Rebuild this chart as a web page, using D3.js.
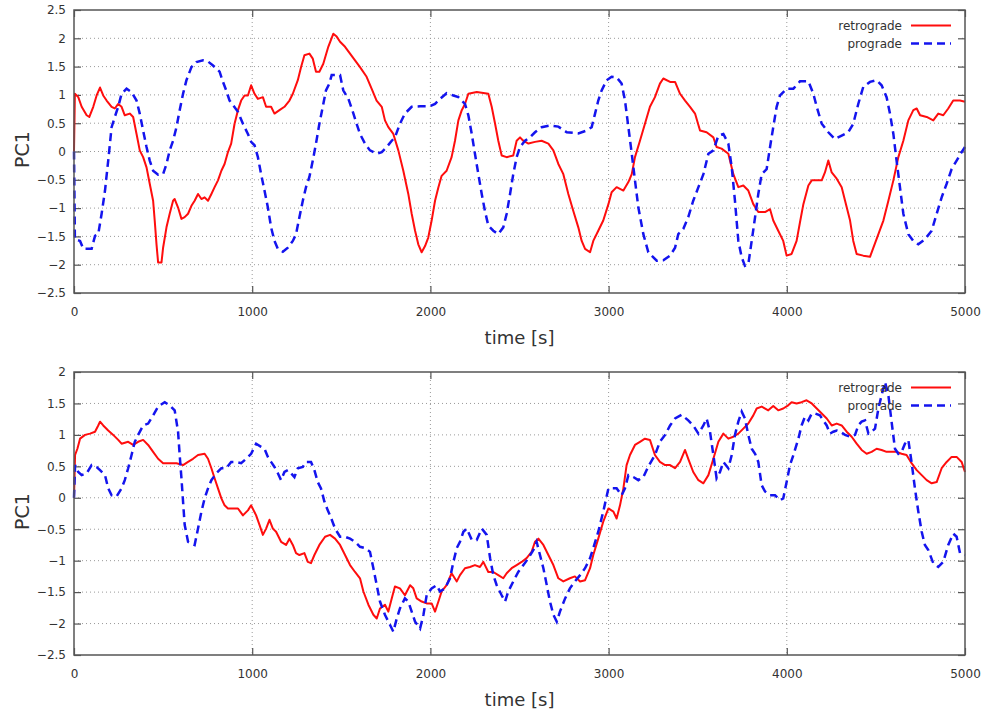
<!DOCTYPE html>
<html>
<head>
<meta charset="utf-8">
<script src="https://cdn.jsdelivr.net/npm/d3@7/dist/d3.min.js"></script>
<style>
  body { margin: 0; background: #fff; }
  text { font-family: "DejaVu Sans", sans-serif; fill: #333; }
</style>
</head>
<body>
<div id="chart"></div>
<script>
// tick values and labels
const x_ticks = [0, 1000, 2000, 3000, 4000, 5000];
const top_y_ticks = [-2.5, -2, -1.5, -1, -0.5, 0, 0.5, 1, 1.5, 2, 2.5];
const bottom_y_ticks = [-2.5, -2, -1.5, -1, -0.5, 0, 0.5, 1, 1.5, 2];
const series_labels = ['retrograde', 'prograde'];
const x_label = 'time [s]';
const y_label = 'PC1';

// [time (s), PC1]
const top_retrograde = [[0,0],[5,1.02],[24,0.96],[43,0.79],[71,0.64],[86,0.61],[108,0.79],[127,0.99],[146,1.13],[164,0.99],[183,0.9],[211,0.79],[229,0.76],[248,0.84],[267,0.79],[285,0.64],[313,0.67],[332,0.61],[351,0.31],[369,0.02],[388,-0.1],[407,-0.28],[425,-0.57],[444,-0.87],[453,-1.22],[463,-1.64],[472,-1.96],[491,-1.96],[500,-1.7],[519,-1.34],[537,-1.1],[556,-0.87],[565,-0.84],[584,-0.99],[603,-1.19],[621,-1.16],[640,-1.1],[659,-0.96],[677,-0.87],[696,-0.75],[715,-0.84],[733,-0.81],[752,-0.87],[771,-0.75],[789,-0.63],[808,-0.51],[827,-0.34],[845,-0.22],[864,-0.01],[882,0.14],[901,0.49],[920,0.73],[938,0.9],[957,0.99],[976,0.99],[994,1.17],[1013,1.02],[1032,0.93],[1060,0.96],[1078,0.79],[1106,0.79],[1125,0.67],[1153,0.73],[1181,0.79],[1209,0.9],[1228,1.02],[1256,1.26],[1274,1.49],[1293,1.7],[1321,1.73],[1340,1.64],[1358,1.41],[1377,1.41],[1399,1.55],[1427,1.85],[1455,2.08],[1474,2.03],[1493,1.94],[1521,1.85],[1549,1.73],[1577,1.61],[1605,1.49],[1642,1.32],[1670,1.11],[1698,0.9],[1727,0.79],[1745,0.55],[1764,0.43],[1792,0.31],[1820,0.02],[1848,-0.34],[1876,-0.75],[1895,-1.1],[1914,-1.4],[1932,-1.64],[1951,-1.78],[1970,-1.67],[1988,-1.52],[2007,-1.22],[2026,-0.87],[2045,-0.63],[2063,-0.43],[2091,-0.34],[2119,-0.1],[2138,0.19],[2157,0.55],[2176,0.73],[2194,0.84],[2213,1.02],[2260,1.05],[2325,1.02],[2344,0.79],[2363,0.49],[2381,0.19],[2400,-0.07],[2428,-0.1],[2465,-0.07],[2484,0.19],[2503,0.25],[2521,0.19],[2550,0.14],[2587,0.17],[2624,0.19],[2662,0.14],[2690,0.02],[2718,-0.22],[2746,-0.4],[2774,-0.75],[2802,-1.05],[2830,-1.34],[2849,-1.58],[2868,-1.72],[2896,-1.78],[2914,-1.58],[2942,-1.4],[2970,-1.22],[2999,-0.93],[3017,-0.72],[3045,-0.63],[3083,-0.69],[3111,-0.54],[3130,-0.4],[3148,-0.1],[3176,0.19],[3204,0.49],[3232,0.79],[3260,0.96],[3288,1.2],[3307,1.29],[3345,1.23],[3373,1.23],[3401,1.02],[3429,0.9],[3457,0.79],[3485,0.67],[3513,0.37],[3550,0.34],[3588,0.25],[3606,0.08],[3634,0.05],[3672,-0.04],[3700,-0.4],[3728,-0.63],[3756,-0.6],[3784,-0.69],[3812,-0.93],[3840,-1.07],[3878,-1.07],[3906,-1.02],[3924,-1.22],[3952,-1.4],[3980,-1.58],[3999,-1.84],[4027,-1.81],[4055,-1.58],[4074,-1.25],[4093,-0.93],[4121,-0.6],[4140,-0.51],[4196,-0.51],[4214,-0.37],[4233,-0.16],[4252,-0.37],[4280,-0.48],[4308,-0.63],[4327,-0.87],[4355,-1.22],[4373,-1.58],[4392,-1.81],[4429,-1.84],[4467,-1.86],[4486,-1.7],[4514,-1.46],[4542,-1.22],[4570,-0.87],[4598,-0.51],[4626,-0.1],[4654,0.19],[4682,0.55],[4710,0.73],[4729,0.76],[4748,0.64],[4785,0.61],[4822,0.55],[4850,0.67],[4878,0.64],[4906,0.76],[4934,0.9],[4972,0.9],[5000,0.88]];

const top_prograde = [[0,0],[5,-1.55],[34,-1.58],[52,-1.72],[99,-1.72],[118,-1.49],[136,-1.46],[155,-1.1],[174,-0.69],[192,-0.16],[211,0.43],[229,0.61],[248,0.79],[267,1.02],[295,1.11],[323,1.05],[351,0.9],[369,0.67],[388,0.37],[407,0.08],[425,-0.16],[444,-0.34],[472,-0.41],[500,-0.4],[519,-0.22],[537,0.02],[556,0.19],[575,0.43],[593,0.73],[612,1.02],[631,1.26],[659,1.49],[687,1.58],[724,1.61],[752,1.59],[780,1.52],[817,1.41],[836,1.23],[854,1.08],[873,0.9],[892,0.82],[920,0.7],[948,0.49],[976,0.31],[994,0.17],[1013,0.11],[1032,-0.1],[1050,-0.4],[1069,-0.69],[1088,-0.99],[1106,-1.34],[1125,-1.58],[1144,-1.72],[1172,-1.77],[1200,-1.7],[1228,-1.58],[1246,-1.46],[1265,-1.16],[1284,-0.87],[1302,-0.63],[1321,-0.45],[1340,-0.16],[1358,0.14],[1377,0.49],[1396,0.79],[1414,1.08],[1433,1.2],[1446,1.35],[1465,1.35],[1493,1.35],[1511,1.08],[1540,0.93],[1568,0.67],[1586,0.49],[1605,0.31],[1633,0.14],[1661,0.02],[1698,-0.04],[1727,-0.01],[1755,0.08],[1783,0.19],[1801,0.25],[1829,0.49],[1857,0.67],[1895,0.79],[1942,0.8],[1998,0.8],[2026,0.84],[2054,0.93],[2091,1.03],[2129,0.99],[2157,0.96],[2194,0.84],[2213,0.64],[2232,0.31],[2250,-0.04],[2269,-0.4],[2288,-0.75],[2306,-1.05],[2325,-1.31],[2353,-1.4],[2381,-1.46],[2409,-1.34],[2428,-1.1],[2447,-0.75],[2465,-0.4],[2484,-0.1],[2503,0.08],[2531,0.19],[2559,0.25],[2587,0.34],[2624,0.43],[2671,0.46],[2718,0.44],[2765,0.34],[2830,0.32],[2877,0.37],[2905,0.43],[2924,0.67],[2942,0.9],[2961,1.08],[2989,1.26],[3017,1.32],[3045,1.31],[3073,1.2],[3092,0.9],[3111,0.43],[3130,-0.04],[3148,-0.51],[3167,-0.99],[3195,-1.46],[3223,-1.78],[3270,-1.93],[3307,-1.92],[3345,-1.84],[3373,-1.7],[3391,-1.46],[3419,-1.37],[3447,-1.16],[3475,-0.87],[3504,-0.63],[3532,-0.4],[3560,-0.04],[3588,0.02],[3616,0.28],[3644,0.31],[3672,0.14],[3691,-0.28],[3709,-0.87],[3728,-1.58],[3747,-1.87],[3765,-2.02],[3784,-1.99],[3803,-1.58],[3822,-1.16],[3840,-0.75],[3859,-0.4],[3887,-0.31],[3906,0.08],[3924,0.43],[3943,0.79],[3962,0.99],[3999,1.11],[4037,1.11],[4074,1.24],[4121,1.24],[4149,1.02],[4168,0.79],[4196,0.49],[4233,0.34],[4270,0.22],[4308,0.28],[4345,0.34],[4373,0.49],[4401,0.84],[4429,1.14],[4467,1.23],[4504,1.26],[4532,1.17],[4560,0.96],[4579,0.67],[4598,0.31],[4616,-0.16],[4635,-0.63],[4654,-1.1],[4682,-1.46],[4710,-1.58],[4738,-1.64],[4775,-1.55],[4813,-1.4],[4841,-1.1],[4869,-0.81],[4897,-0.57],[4925,-0.31],[4953,-0.16],[4981,-0.01],[5000,0.08]];

const bottom_retrograde = [[0,0],[6,0.68],[19,0.78],[34,0.94],[62,1.0],[90,1.02],[118,1.05],[136,1.15],[146,1.21],[164,1.15],[192,1.07],[220,1.0],[248,0.92],[267,0.86],[304,0.89],[332,0.84],[360,0.89],[388,0.92],[416,0.84],[444,0.73],[472,0.62],[500,0.55],[537,0.55],[575,0.55],[612,0.52],[640,0.57],[668,0.62],[696,0.68],[733,0.7],[752,0.62],[771,0.47],[789,0.31],[808,0.15],[827,-0.01],[845,-0.12],[864,-0.17],[892,-0.17],[920,-0.17],[948,-0.28],[976,-0.2],[994,-0.12],[1022,-0.28],[1041,-0.43],[1060,-0.59],[1078,-0.49],[1097,-0.35],[1116,-0.49],[1134,-0.54],[1162,-0.7],[1190,-0.75],[1209,-0.65],[1228,-0.75],[1246,-0.88],[1265,-0.91],[1293,-0.88],[1312,-1.02],[1330,-1.04],[1349,-0.91],[1377,-0.75],[1409,-0.62],[1437,-0.59],[1465,-0.65],[1493,-0.75],[1521,-0.91],[1549,-1.07],[1577,-1.18],[1605,-1.28],[1624,-1.49],[1652,-1.7],[1680,-1.86],[1699,-1.92],[1717,-1.76],[1745,-1.7],[1764,-1.81],[1783,-1.6],[1801,-1.41],[1829,-1.44],[1857,-1.55],[1886,-1.39],[1904,-1.44],[1923,-1.6],[1951,-1.65],[1979,-1.68],[2007,-1.68],[2026,-1.81],[2045,-1.65],[2063,-1.49],[2091,-1.39],[2119,-1.2],[2148,-1.33],[2166,-1.23],[2194,-1.12],[2222,-1.1],[2250,-1.07],[2278,-1.1],[2297,-1.02],[2325,-1.18],[2353,-1.18],[2381,-1.23],[2409,-1.28],[2428,-1.2],[2456,-1.12],[2484,-1.07],[2512,-1.02],[2540,-0.96],[2568,-0.86],[2587,-0.7],[2606,-0.65],[2634,-0.75],[2662,-0.91],[2690,-1.07],[2718,-1.28],[2746,-1.33],[2783,-1.28],[2811,-1.25],[2840,-1.33],[2868,-1.31],[2896,-1.12],[2914,-0.91],[2942,-0.65],[2970,-0.38],[2999,-0.17],[3027,-0.22],[3045,-0.33],[3064,-0.12],[3083,0.15],[3101,0.52],[3120,0.68],[3148,0.84],[3176,0.89],[3204,0.94],[3232,0.92],[3260,0.68],[3288,0.57],[3317,0.52],[3345,0.52],[3373,0.47],[3401,0.57],[3429,0.76],[3447,0.62],[3475,0.41],[3504,0.28],[3532,0.23],[3560,0.36],[3588,0.62],[3616,0.89],[3644,1.02],[3672,0.94],[3700,0.97],[3728,1.02],[3756,1.1],[3784,1.18],[3812,1.31],[3831,1.42],[3859,1.45],[3896,1.39],[3924,1.46],[3952,1.39],[3980,1.42],[4008,1.47],[4027,1.52],[4055,1.5],[4083,1.52],[4111,1.55],[4140,1.5],[4168,1.42],[4196,1.34],[4224,1.26],[4252,1.15],[4280,1.18],[4308,1.15],[4336,1.05],[4364,0.97],[4392,0.86],[4420,0.76],[4448,0.7],[4476,0.73],[4504,0.78],[4532,0.76],[4560,0.73],[4588,0.73],[4616,0.73],[4644,0.7],[4672,0.68],[4700,0.55],[4729,0.44],[4757,0.36],[4785,0.28],[4813,0.23],[4841,0.25],[4869,0.47],[4897,0.57],[4925,0.65],[4953,0.65],[4981,0.57],[5000,0.41]];

const bottom_prograde = [[0,0],[6,0.52],[24,0.41],[43,0.36],[71,0.39],[99,0.52],[127,0.49],[146,0.44],[174,0.36],[192,0.15],[211,0.04],[239,0.02],[267,0.15],[285,0.28],[304,0.47],[323,0.68],[341,0.89],[360,1.0],[388,1.15],[416,1.18],[444,1.31],[472,1.45],[509,1.52],[537,1.47],[565,1.39],[584,1.05],[593,0.68],[603,0.31],[612,-0.06],[621,-0.43],[640,-0.7],[659,-0.73],[677,-0.75],[696,-0.49],[715,-0.22],[733,-0.01],[752,0.15],[771,0.28],[799,0.39],[827,0.47],[854,0.47],[882,0.57],[910,0.57],[938,0.55],[966,0.62],[994,0.7],[1022,0.86],[1050,0.81],[1069,0.78],[1088,0.65],[1106,0.57],[1125,0.49],[1144,0.39],[1162,0.28],[1181,0.41],[1200,0.44],[1218,0.39],[1237,0.33],[1256,0.47],[1284,0.49],[1302,0.57],[1330,0.57],[1349,0.44],[1368,0.25],[1386,0.15],[1405,-0.06],[1424,-0.2],[1437,-0.28],[1465,-0.49],[1493,-0.62],[1521,-0.62],[1549,-0.65],[1577,-0.7],[1605,-0.78],[1633,-0.8],[1661,-0.86],[1680,-1.12],[1699,-1.39],[1717,-1.65],[1745,-1.86],[1773,-2.02],[1792,-2.13],[1811,-1.92],[1829,-1.76],[1857,-1.6],[1876,-1.65],[1895,-1.81],[1914,-1.97],[1942,-2.08],[1961,-1.86],[1979,-1.55],[2007,-1.44],[2035,-1.39],[2054,-1.49],[2082,-1.44],[2110,-1.28],[2129,-1.02],[2148,-0.8],[2166,-0.7],[2185,-0.54],[2204,-0.49],[2232,-0.67],[2260,-0.67],[2288,-0.49],[2316,-0.59],[2335,-0.96],[2353,-1.23],[2372,-1.39],[2400,-1.55],[2419,-1.65],[2437,-1.49],[2465,-1.33],[2493,-1.18],[2522,-1.07],[2550,-0.96],[2578,-0.83],[2596,-0.7],[2615,-0.91],[2634,-1.12],[2653,-1.39],[2671,-1.65],[2690,-1.86],[2709,-1.97],[2727,-1.81],[2756,-1.6],[2783,-1.44],[2811,-1.33],[2840,-1.23],[2868,-1.12],[2896,-0.96],[2914,-0.8],[2942,-0.54],[2970,-0.22],[2999,0.15],[3017,0.15],[3045,0.15],[3073,0.04],[3092,0.15],[3111,0.36],[3139,0.33],[3167,0.28],[3195,0.33],[3223,0.5],[3260,0.68],[3288,0.89],[3317,1.0],[3345,1.15],[3373,1.26],[3410,1.32],[3447,1.23],[3475,1.15],[3504,1.02],[3532,1.15],[3550,1.26],[3569,1.05],[3588,0.68],[3606,0.31],[3625,0.41],[3644,0.57],[3672,0.47],[3691,0.68],[3709,1.0],[3728,1.21],[3747,1.37],[3765,1.26],[3784,1.0],[3803,0.78],[3822,0.7],[3840,0.57],[3859,0.2],[3878,0.1],[3906,0.04],[3934,0.04],[3962,-0.04],[3980,-0.01],[3999,0.25],[4018,0.52],[4037,0.68],[4065,0.94],[4083,1.15],[4102,1.29],[4121,1.23],[4140,1.34],[4158,1.34],[4186,1.31],[4205,1.23],[4224,1.15],[4242,1.02],[4261,1.05],[4280,1.07],[4299,1.05],[4327,1.0],[4355,0.97],[4383,1.0],[4401,1.15],[4420,1.21],[4439,1.23],[4458,1.02],[4476,1.05],[4495,1.1],[4514,1.42],[4532,1.63],[4551,1.84],[4570,1.63],[4588,1.21],[4607,0.78],[4626,0.7],[4644,0.73],[4663,0.86],[4682,0.92],[4700,0.57],[4719,0.15],[4738,-0.22],[4757,-0.54],[4775,-0.75],[4794,-0.83],[4822,-1.04],[4850,-1.1],[4878,-1.02],[4906,-0.75],[4934,-0.57],[4953,-0.62],[4972,-0.88],[5000,-0.91]];

const RED = '#ff0d0d';
const BLUE = '#1414ee';
const FRAME = '#555';

const svg = d3.select('#chart')
  .append('svg')
  .attr('width', 986)
  .attr('height', 716);

/**
 * One gnuplot-like panel: framed box, dotted grid, inward ticks, two lines
 */
function draw_panel (box, y_domain, y_ticks, retro, pro) {
  let x = d3.scaleLinear().domain([0, 5000]).range([box.left, box.right]);
  let y = d3.scaleLinear().domain(y_domain).range([box.bottom, box.top]);
  let g = svg.append('g');

  // grid
  g.append('g')
    .selectAll('line')
    .data(y_ticks.filter(d => d > y_domain[0] && d < y_domain[1]))
    .join('line')
    .attr('x1', box.left).attr('x2', box.right)
    .attr('y1', d => y(d)).attr('y2', d => y(d));
  g.append('g')
    .selectAll('line')
    .data(x_ticks.filter(d => d > 0 && d < 5000))
    .join('line')
    .attr('x1', d => x(d)).attr('x2', d => x(d))
    .attr('y1', box.top).attr('y2', box.bottom);
  g.selectAll('line')
    .attr('stroke', '#9a9a9a')
    .attr('stroke-width', 1)
    .attr('stroke-dasharray', '1,3');

  // legend background hides the grid behind the key
  g.append('rect')
    .attr('x', box.right - 145).attr('y', box.top + 5)
    .attr('width', 140).attr('height', 40)
    .attr('fill', '#fff');

  // axes, ticks pointing inward
  let ax_bottom = d3.axisBottom(x).tickValues(x_ticks).tickSize(-7).tickPadding(14).tickFormat(d3.format('d'));
  let ax_top = d3.axisTop(x).tickValues(x_ticks).tickSize(-7).tickFormat('');
  let ax_left = d3.axisLeft(y).tickValues(y_ticks).tickSize(-7).tickPadding(8).tickFormat(d3.format(''));
  let ax_right = d3.axisRight(y).tickValues(y_ticks).tickSize(-7).tickFormat('');

  let axes = [
    g.append('g').attr('transform', `translate(0, ${box.bottom})`).call(ax_bottom),
    g.append('g').attr('transform', `translate(0, ${box.top})`).call(ax_top),
    g.append('g').attr('transform', `translate(${box.left}, 0)`).call(ax_left),
    g.append('g').attr('transform', `translate(${box.right}, 0)`).call(ax_right)
  ];
  axes.forEach(a => {
    a.select('.domain').remove();
    a.selectAll('line').attr('stroke', FRAME).attr('stroke-width', 1.2);
    a.selectAll('text')
      .style('font-family', '"DejaVu Sans", sans-serif')
      .style('font-size', '12px')
      .attr('fill', '#333');
  });

  // lines
  let line = d3.line()
    .x(d => x(d[0]))
    .y(d => y(d[1]));

  g.append('path')
    .datum(retro)
    .attr('d', line)
    .attr('fill', 'none')
    .attr('stroke', RED)
    .attr('stroke-width', 2)
    .attr('stroke-linejoin', 'round');

  g.append('path')
    .datum(pro)
    .attr('d', line)
    .attr('fill', 'none')
    .attr('stroke', BLUE)
    .attr('stroke-width', 2.5)
    .attr('stroke-dasharray', '8,5');

  // frame
  g.append('rect')
    .attr('x', box.left).attr('y', box.top)
    .attr('width', box.right - box.left)
    .attr('height', box.bottom - box.top)
    .attr('fill', 'none')
    .attr('stroke', FRAME)
    .attr('stroke-width', 1.5);

  // handmade key
  let colors = [RED, BLUE];
  let dashes = [null, '8,5'];
  for (let i = 0; i < series_labels.length; i++) {
    let curr_y = box.top + 15.5 + 18 * i;
    g.append('text')
      .attr('x', box.right - 63)
      .attr('y', curr_y + 4)
      .attr('text-anchor', 'end')
      .style('font-size', '12px')
      .text(series_labels[i]);
    g.append('line')
      .attr('x1', box.right - 54).attr('x2', box.right - 14)
      .attr('y1', curr_y).attr('y2', curr_y)
      .attr('stroke', colors[i])
      .attr('stroke-width', i === 0 ? 2 : 2.5)
      .attr('stroke-dasharray', dashes[i]);
  }

  // axis titles
  g.append('text')
    .attr('x', (box.left + box.right) / 2)
    .attr('y', box.bottom + 51)
    .attr('text-anchor', 'middle')
    .style('font-size', '18px')
    .attr('fill', '#222')
    .text(x_label);

  g.append('text')
    .attr('transform', `translate(29, ${(box.top + box.bottom) / 2 - 2}) rotate(-90)`)
    .attr('text-anchor', 'middle')
    .style('font-size', '19px')
    .attr('fill', '#222')
    .text(y_label);
}

draw_panel({ left: 74, right: 965, top: 10, bottom: 293 }, [-2.5, 2.5], top_y_ticks, top_retrograde, top_prograde);
draw_panel({ left: 74, right: 965, top: 372, bottom: 655 }, [-2.5, 2], bottom_y_ticks, bottom_retrograde, bottom_prograde);
</script>
</body>
</html>
